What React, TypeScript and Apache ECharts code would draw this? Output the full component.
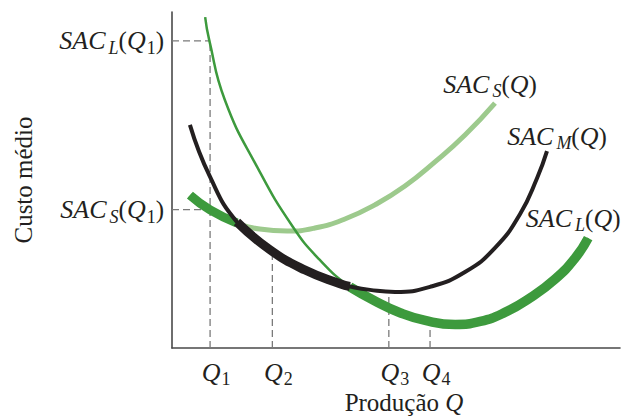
import React, { useEffect, useRef } from "react";
import * as echarts from "echarts";

// Output levels marked on the horizontal axis
const qLabels = ["1", "2", "3", "4"];
const qValues = [8.5, 22.4, 48.4, 57.6];
// Height each vertical guide reaches (cost of the relevant curve at that output)
const qGuideTops = [91.4, 28.7, 16.8, 8.0];

// Cost levels marked on the vertical axis
const costLevels = [91.4, 41.2];
const costLabelKeys = ["L", "S"];

// Short-run average cost, small plant
const sacSX = [4.0, 8.5, 14.5, 19.6, 25.7, 31.9, 38.6, 45.3, 52.0, 58.7, 65.4, 72.1];
const sacSY = [45.5, 41.1, 37.2, 35.4, 34.8, 35.7, 38.4, 42.6, 48.2, 55.4, 63.4, 72.9];

// Short-run average cost, medium plant
const sacMX = [4.0, 8.5, 14.5, 21.9, 29.7, 37.5, 39.7, 44.2, 49.8, 57.6, 65.4, 72.1, 77.7, 81.5, 83.7];
const sacMY = [66.4, 50.9, 37.5, 29.2, 23.2, 19.1, 18.3, 17.3, 16.7, 18.2, 22.6, 29.8, 39.9, 50.6, 58.6];

// Short-run average cost, large plant
const sacLX = [7.4, 8.3, 11.8, 19.0, 27.0, 33.0, 39.7, 45.3, 50.9, 56.5, 63.2, 68.8, 74.3, 79.9, 85.5, 90.0, 92.9];
const sacLY = [98.5, 91.7, 73.8, 53.9, 36.0, 26.2, 18.2, 14.0, 10.5, 8.2, 7.0, 7.9, 10.6, 14.9, 20.5, 26.8, 32.7];

// Index ranges of each curve that form the long-run envelope (drawn heavy)
const envS = [0, 2];
const envM = [2, 6];
const envL = [6, sacLX.length - 1];

const INK = "#231f20";
const GREEN = "#3d9a3d";
const LIGHT_GREEN = "#9dca8d";
const GUIDE = "#7a7a7a";
const SERIF = "'Liberation Serif', 'DejaVu Serif', serif";

const zip = (xs: number[], ys: number[]) => xs.map((x, i) => [x, ys[i]]);
const part = (pts: number[][], r: number[]) => pts.slice(r[0], r[1] + 1);

const rich = {
  i: { fontFamily: SERIF, fontStyle: "italic", fontSize: 26, lineHeight: 32, color: INK },
  r: { fontFamily: SERIF, fontSize: 25, lineHeight: 32, color: INK },
  si: { fontFamily: SERIF, fontStyle: "italic", fontSize: 18, lineHeight: 18, padding: [14, 0, 0, 3], color: INK },
  sn: { fontFamily: SERIF, fontSize: 18, lineHeight: 18, padding: [14, 0, 0, 1], color: INK },
};

const nameRich = {
  i: { fontFamily: SERIF, fontStyle: "italic", fontSize: 25, lineHeight: 26, color: INK },
  r: { fontFamily: SERIF, fontSize: 25, lineHeight: 26, color: INK },
};

const sacText = (sub: string, arg: string) =>
  `{i|SAC}{si|${sub}}{r|(}{i|Q}${arg ? `{sn|${arg}}` : ""}{r|)}`;

export default function App() {
  const ref = useRef<HTMLDivElement>(null);

  useEffect(() => {
    if (!ref.current) return;
    const chart = echarts.init(ref.current, undefined, { renderer: "svg" });

    const ptsS = zip(sacSX, sacSY);
    const ptsM = zip(sacMX, sacMY);
    const ptsL = zip(sacLX, sacLY);

    const guide = (data: number[][]) => ({
      type: "line",
      data,
      symbol: "none",
      silent: true,
      z: 1,
      lineStyle: { color: GUIDE, width: 1.3, type: [7, 4] },
    });

    const curve = (data: number[][], color: string, width: number, z: number, extra: any = {}) => ({
      type: "line",
      data,
      symbol: "none",
      smooth: 0.5,
      silent: true,
      z,
      lineStyle: { color, width, cap: "butt" },
      ...extra,
    });

    const endName = (pts: number[][], text: string, offset: number[]) => ({
      markPoint: {
        silent: true,
        symbol: "circle",
        symbolSize: 1,
        itemStyle: { color: "rgba(0,0,0,0)" },
        data: [
          {
            coord: pts[pts.length - 1],
            label: { show: true, position: "inside", offset, formatter: text, rich },
          },
        ],
      },
    });

    const series: any[] = [
      ...qValues.map((q, i) => guide([[q, 0], [q, qGuideTops[i]]])),
      ...costLevels.map((c) => guide([[0, c], [qValues[0], c]])),
      curve(ptsS, LIGHT_GREEN, 5, 2, endName(ptsS, sacText("S", ""), [-5, -19])),
      curve(part(ptsS, envS), GREEN, 9, 3),
      curve(ptsL, GREEN, 2.5, 4),
      curve(part(ptsL, envL), GREEN, 9.5, 5, endName(ptsL, sacText("L", ""), [-15, -20])),
      curve(ptsM, INK, 4, 6, endName(ptsM, sacText("M", ""), [10, -15])),
      curve(part(ptsM, envM), INK, 9, 7),
    ];

    chart.setOption({
      animation: false,
      grid: { left: 172, right: 2, top: 12, bottom: 68, outerBoundsMode: "none" },
      xAxis: {
        type: "value",
        min: 0,
        max: 100,
        axisLine: { show: true, lineStyle: { color: "#4a4a4a", width: 1.6 } },
        axisTick: { show: false },
        splitLine: { show: false },
        axisLabel: {
          customValues: qValues,
          margin: 8,
          padding: [0, 0, 0, 12],
          formatter: (v: number) => {
            const i = qValues.findIndex((q) => Math.abs(q - v) < 1e-6);
            return i < 0 ? "" : `{i|Q}{sn|${qLabels[i]}}`;
          },
          rich,
        },
        name: "{r|Produção }{i|Q}",
        nameLocation: "middle",
        nameMoveOverlap: false,
        nameGap: 41,
        nameTextStyle: { rich: nameRich, padding: [0, 0, 0, 16] },
      },
      yAxis: {
        type: "value",
        min: 0,
        max: 100,
        axisLine: { show: true, lineStyle: { color: "#4a4a4a", width: 1.6 } },
        axisTick: { show: false },
        splitLine: { show: false },
        axisLabel: {
          customValues: costLevels,
          margin: 8,
          formatter: (v: number) => {
            const i = costLevels.findIndex((c) => Math.abs(c - v) < 1e-6);
            return i < 0 ? "" : sacText(costLabelKeys[i], "1");
          },
          rich,
        },
        name: "Custo médio",
        nameLocation: "middle",
        nameMoveOverlap: false,
        nameRotate: 90,
        nameGap: 136,
        nameTextStyle: { fontFamily: SERIF, fontSize: 25, color: INK },
      },
      series,
    });

    return () => chart.dispose();
  }, []);

  return (
    <div
      ref={ref}
      style={{ position: "absolute", left: 0, top: 0, width: 622, height: 416 }}
    />
  );
}
